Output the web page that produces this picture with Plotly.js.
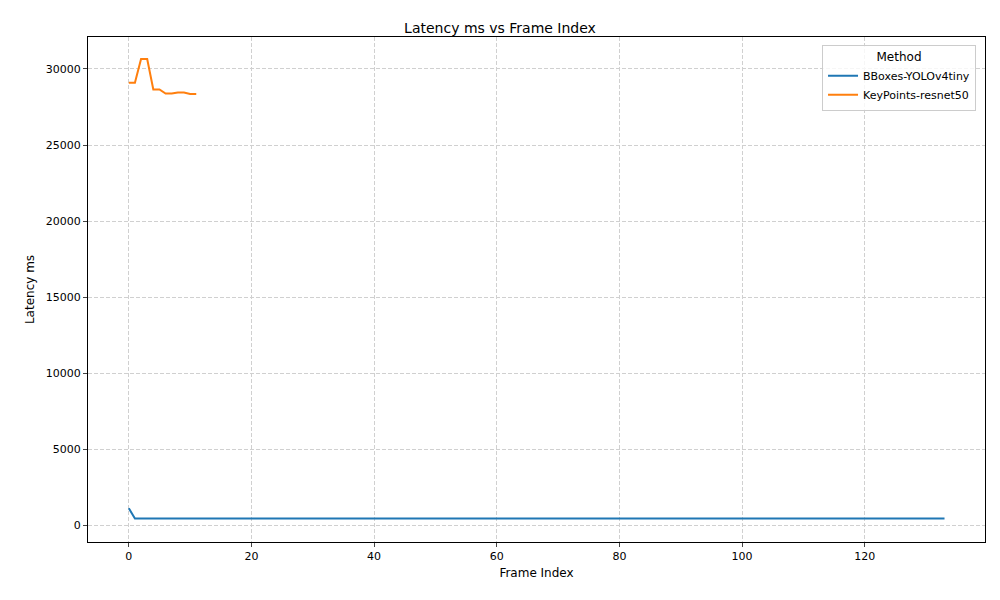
<!DOCTYPE html>
<html>
<head>
<meta charset="utf-8">
<script src="https://cdn.plot.ly/plotly-3.0.1.min.js"></script>
<style>body{margin:0;background:#fff}</style>
</head>
<body>
<div id="chart" style="width:1000px;height:600px"></div>
<script>
var bboxLatency = [
  1120, 450, 450, 450, 448, 450, 452, 450, 449, 450,
  450, 451, 450, 448, 450, 450, 440, 442, 445, 450,
  452, 450, 450, 449, 450, 451, 450, 452, 450, 447,
  450, 450, 452, 455, 450, 451, 450, 449, 450, 448,
  450, 450, 449, 450, 455, 450, 448, 450, 450, 450,
  449, 450, 450, 450, 451, 450, 449, 450, 450, 450,
  450, 451, 448, 450, 450, 450, 449, 450, 451, 450,
  450, 450, 449, 450, 450, 455, 456, 452, 450, 449,
  450, 450, 449, 450, 450, 448, 447, 455, 452, 450,
  450, 449, 450, 450, 450, 451, 450, 449, 450, 450,
  450, 450, 449, 450, 450, 450, 451, 450, 449, 450,
  450, 450, 449, 450, 450, 450, 451, 450, 449, 450,
  450, 448, 449, 450, 450, 455, 452, 450, 449, 450,
  450, 450, 449, 450
];
var keypointLatency = [29100, 29100, 30650, 30650, 28650, 28650, 28380, 28380, 28450, 28450, 28350, 28350];
var yTicks = [0, 5000, 10000, 15000, 20000, 25000, 30000];
var yTickText = ['0', '5000', '10000', '15000', '20000', '25000', '30000'];

function indexes(arr) {
  return arr.map(function (v, i) { return i; });
}

var data = [
  {
    x: indexes(bboxLatency),
    y: bboxLatency,
    type: 'scatter',
    mode: 'lines',
    name: 'BBoxes-YOLOv4tiny',
    line: { color: '#1f77b4', width: 2 }
  },
  {
    x: indexes(keypointLatency),
    y: keypointLatency,
    type: 'scatter',
    mode: 'lines',
    name: 'KeyPoints-resnet50',
    line: { color: '#ff7f0e', width: 2 }
  }
];

var layout = {
  width: 1000,
  height: 600,
  paper_bgcolor: '#fff',
  plot_bgcolor: '#fff',
  font: { family: 'DejaVu Sans, sans-serif', size: 12, color: '#000' },
  title: { text: 'Latency ms vs Frame Index', x: 0.5, y: 0.962, font: { size: 14 } },
  margin: { l: 88, r: 15, t: 37, b: 58 },
  xaxis: {
    title: { text: 'Frame Index', standoff: 6, font: { size: 12 } },
    range: [-6.65, 139.6],
    tickvals: [0, 20, 40, 60, 80, 100, 120],
    tickfont: { size: 11 },
    showgrid: true,
    gridcolor: '#d0d0d0',
    griddash: '4px,2px',
    zeroline: false,
    showline: true, mirror: true, linecolor: '#000',
    ticks: 'outside', ticklen: 4
  },
  yaxis: {
    title: { text: 'Latency ms', standoff: 8, font: { size: 12 } },
    range: [-1100, 32100],
    tickvals: yTicks,
    ticktext: yTickText,
    tickfont: { size: 11 },
    showgrid: true,
    gridcolor: '#d0d0d0',
    griddash: '4px,2px',
    zeroline: false,
    showline: true, mirror: true, linecolor: '#000',
    ticks: 'outside', ticklen: 4
  },
  legend: {
    title: { text: 'Method', side: 'top center', font: { size: 12 } },
    font: { size: 11 },
    x: 0.99, y: 0.985, xanchor: 'right', yanchor: 'top',
    bordercolor: '#ccc', borderwidth: 1, bgcolor: 'rgba(255,255,255,0.8)'
  }
};

Plotly.newPlot('chart', data, layout, { displayModeBar: false });
</script>
</body>
</html>
